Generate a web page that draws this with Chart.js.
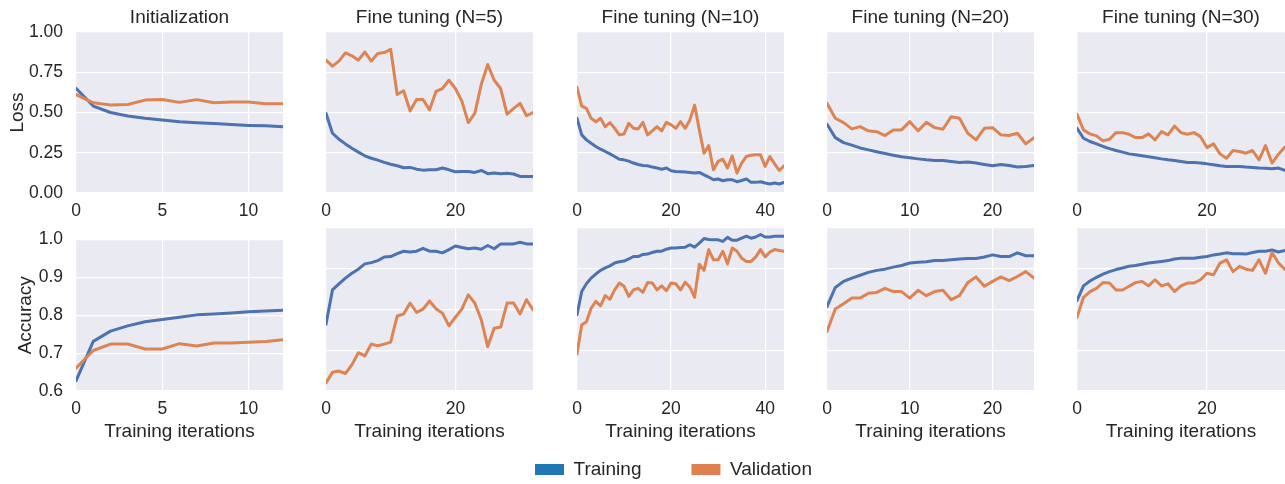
<!DOCTYPE html>
<html>
<head>
<meta charset="utf-8">
<script src="https://cdn.jsdelivr.net/npm/chart.js@4.4.1/dist/chart.umd.min.js"></script>
<style>
  body { margin: 0; width: 1285px; height: 484px; overflow: hidden; position: relative; background: #fff; }
  canvas { position: absolute; }
</style>
</head>
<body>
<script>
// panel titles and axis labels
const panelTitles = ['Initialization', 'Fine tuning (N=5)', 'Fine tuning (N=10)', 'Fine tuning (N=20)', 'Fine tuning (N=30)'];
const seriesNames = ['Training', 'Validation'];
const lossTicks = [0, 0.25, 0.5, 0.75, 1.0];
const accTicks = [0.6, 0.7, 0.8, 0.9, 1.0];
const xTicks = [[0, 5, 10], [0, 20], [0, 20, 40], [0, 10, 20], [0, 20]];

// loss per iteration
const initLossTrain = [0.65, 0.54, 0.50, 0.478, 0.464, 0.454, 0.443, 0.437, 0.431, 0.425, 0.42, 0.417, 0.412];
const initLossVal = [0.612, 0.56, 0.546, 0.55, 0.577, 0.581, 0.563, 0.58, 0.56, 0.565, 0.565, 0.555, 0.555];
const n5LossTrain = [0.495, 0.371, 0.334, 0.305, 0.278, 0.254, 0.231, 0.216, 0.204, 0.19, 0.179, 0.169, 0.157, 0.159, 0.148, 0.142, 0.144, 0.144, 0.155, 0.144, 0.132, 0.134, 0.134, 0.128, 0.14, 0.12, 0.124, 0.12, 0.122, 0.118, 0.103, 0.103, 0.103];
const n5LossVal = [0.825, 0.788, 0.819, 0.87, 0.852, 0.825, 0.876, 0.819, 0.866, 0.872, 0.893, 0.612, 0.635, 0.509, 0.581, 0.581, 0.515, 0.631, 0.649, 0.70, 0.649, 0.571, 0.437, 0.495, 0.674, 0.798, 0.70, 0.649, 0.489, 0.526, 0.557, 0.48, 0.50];
const n10LossTrain = [0.464, 0.361, 0.33, 0.309, 0.289, 0.272, 0.258, 0.243, 0.227, 0.21, 0.206, 0.198, 0.186, 0.177, 0.171, 0.169, 0.161, 0.155, 0.148, 0.155, 0.138, 0.134, 0.132, 0.13, 0.128, 0.124, 0.128, 0.113, 0.099, 0.082, 0.087, 0.076, 0.082, 0.082, 0.07, 0.078, 0.087, 0.066, 0.066, 0.07, 0.062, 0.056, 0.062, 0.056, 0.066];
const n10LossVal = [0.656, 0.54, 0.526, 0.464, 0.443, 0.464, 0.412, 0.437, 0.402, 0.361, 0.367, 0.433, 0.402, 0.398, 0.439, 0.361, 0.386, 0.412, 0.386, 0.439, 0.423, 0.402, 0.443, 0.402, 0.454, 0.546, 0.392, 0.247, 0.295, 0.144, 0.196, 0.21, 0.155, 0.231, 0.124, 0.186, 0.227, 0.235, 0.237, 0.237, 0.165, 0.227, 0.181, 0.14, 0.169];
const n20LossTrain = [0.427, 0.344, 0.313, 0.297, 0.28, 0.268, 0.256, 0.245, 0.235, 0.225, 0.219, 0.212, 0.206, 0.202, 0.202, 0.196, 0.19, 0.192, 0.186, 0.177, 0.169, 0.177, 0.171, 0.161, 0.165, 0.171];
const n20LossVal = [0.557, 0.464, 0.437, 0.398, 0.412, 0.386, 0.381, 0.357, 0.392, 0.392, 0.443, 0.386, 0.439, 0.406, 0.396, 0.474, 0.464, 0.371, 0.33, 0.402, 0.406, 0.361, 0.357, 0.371, 0.305, 0.344];
const n30LossTrain = [0.402, 0.34, 0.32, 0.305, 0.289, 0.276, 0.264, 0.254, 0.243, 0.237, 0.231, 0.225, 0.219, 0.212, 0.206, 0.202, 0.196, 0.19, 0.19, 0.186, 0.181, 0.175, 0.169, 0.165, 0.165, 0.165, 0.161, 0.159, 0.155, 0.153, 0.151, 0.155, 0.14];
const n30LossVal = [0.489, 0.392, 0.367, 0.355, 0.324, 0.334, 0.375, 0.375, 0.365, 0.344, 0.344, 0.367, 0.33, 0.381, 0.361, 0.416, 0.375, 0.365, 0.375, 0.35, 0.282, 0.305, 0.243, 0.216, 0.264, 0.258, 0.247, 0.264, 0.206, 0.295, 0.186, 0.241, 0.285];

// accuracy per iteration
const initAccTrain = [0.627, 0.731, 0.758, 0.772, 0.783, 0.789, 0.795, 0.801, 0.803, 0.806, 0.809, 0.811, 0.813];
const initAccVal = [0.66, 0.707, 0.724, 0.724, 0.711, 0.711, 0.725, 0.719, 0.727, 0.727, 0.729, 0.731, 0.735];
const n5AccTrain = [0.764, 0.848, 0.863, 0.877, 0.889, 0.899, 0.912, 0.915, 0.92, 0.929, 0.93, 0.937, 0.943, 0.941, 0.943, 0.95, 0.943, 0.943, 0.939, 0.947, 0.956, 0.952, 0.949, 0.951, 0.948, 0.957, 0.949, 0.961, 0.961, 0.961, 0.965, 0.961, 0.961];
const n5AccVal = [0.62, 0.646, 0.649, 0.643, 0.664, 0.694, 0.686, 0.715, 0.711, 0.715, 0.72, 0.784, 0.789, 0.816, 0.793, 0.801, 0.821, 0.802, 0.791, 0.76, 0.781, 0.801, 0.836, 0.816, 0.775, 0.709, 0.754, 0.757, 0.816, 0.816, 0.789, 0.824, 0.799];
const n10AccTrain = [0.787, 0.844, 0.863, 0.877, 0.887, 0.896, 0.902, 0.907, 0.914, 0.917, 0.919, 0.924, 0.93, 0.93, 0.935, 0.936, 0.94, 0.943, 0.943, 0.948, 0.951, 0.951, 0.952, 0.953, 0.959, 0.953, 0.963, 0.974, 0.972, 0.971, 0.971, 0.967, 0.977, 0.97, 0.97, 0.975, 0.98, 0.975, 0.978, 0.984, 0.978, 0.978, 0.98, 0.98, 0.98];
const n10AccVal = [0.691, 0.762, 0.77, 0.803, 0.82, 0.809, 0.834, 0.825, 0.848, 0.865, 0.857, 0.832, 0.848, 0.852, 0.842, 0.866, 0.865, 0.848, 0.858, 0.846, 0.865, 0.863, 0.848, 0.867, 0.855, 0.83, 0.911, 0.896, 0.947, 0.922, 0.922, 0.943, 0.912, 0.951, 0.943, 0.926, 0.918, 0.918, 0.929, 0.947, 0.929, 0.941, 0.947, 0.945, 0.943];
const n20AccTrain = [0.807, 0.854, 0.869, 0.877, 0.884, 0.891, 0.896, 0.899, 0.904, 0.908, 0.914, 0.916, 0.917, 0.92, 0.92, 0.922, 0.924, 0.925, 0.925, 0.929, 0.934, 0.93, 0.93, 0.939, 0.932, 0.932];
const n20AccVal = [0.746, 0.801, 0.814, 0.828, 0.828, 0.84, 0.842, 0.852, 0.844, 0.844, 0.828, 0.847, 0.834, 0.844, 0.847, 0.824, 0.834, 0.866, 0.88, 0.857, 0.869, 0.88, 0.871, 0.881, 0.893, 0.877];
const n30AccTrain = [0.822, 0.858, 0.87, 0.879, 0.887, 0.893, 0.898, 0.902, 0.906, 0.908, 0.911, 0.914, 0.916, 0.918, 0.92, 0.924, 0.926, 0.926, 0.926, 0.928, 0.93, 0.934, 0.936, 0.939, 0.937, 0.937, 0.936, 0.94, 0.943, 0.943, 0.946, 0.941, 0.945];
const n30AccVal = [0.781, 0.83, 0.844, 0.852, 0.866, 0.865, 0.848, 0.848, 0.857, 0.866, 0.869, 0.858, 0.873, 0.858, 0.863, 0.844, 0.858, 0.865, 0.865, 0.873, 0.889, 0.885, 0.914, 0.922, 0.893, 0.906, 0.899, 0.896, 0.922, 0.889, 0.94, 0.914, 0.898];

const lossTrain = [initLossTrain, n5LossTrain, n10LossTrain, n20LossTrain, n30LossTrain];
const lossVal = [initLossVal, n5LossVal, n10LossVal, n20LossVal, n30LossVal];
const accTrain = [initAccTrain, n5AccTrain, n10AccTrain, n20AccTrain, n30AccTrain];
const accVal = [initAccVal, n5AccVal, n10AccVal, n20AccVal, n30AccVal];

// layout
const plotLefts = [76, 326, 577, 827, 1077];
const plotWidths = [207, 207, 207, 207, 208];
const Y_AXIS_W = 76;
const TEXT = '#262626';
const lineColors = ['#4C72B0', '#DD8452'];
const legendColors = ['#1F77B4', '#E07F4F'];

Chart.defaults.font.family = '"Liberation Sans", Arial, sans-serif';
Chart.defaults.color = TEXT;
Chart.defaults.animation = false;

const plotBackground = {
    id: 'plotBackground',
    beforeDraw(chart) {
        const { ctx, chartArea: a } = chart;
        if (!a) return;
        ctx.save();
        ctx.fillStyle = '#EAEAF2';
        ctx.fillRect(a.left, a.top, a.width, a.height);
        ctx.restore();
    }
};

const toPoints = arr => arr.map((v, i) => ({ x: i, y: v }));

function makePanel(row, col) {
    const isLoss = row === 0;
    const train = (isLoss ? lossTrain : accTrain)[col];
    const val = (isLoss ? lossVal : accVal)[col];
    const yTicks = isLoss ? lossTicks : accTicks;

    const canvas = document.createElement('canvas');
    canvas.width = Y_AXIS_W + plotWidths[col];
    canvas.height = isLoss ? 225 : 227;
    canvas.style.left = (plotLefts[col] - Y_AXIS_W) + 'px';
    canvas.style.top = (isLoss ? 0 : 216) + 'px';
    document.body.appendChild(canvas);

    new Chart(canvas, {
        type: 'line',
        data: {
            datasets: [
                { label: seriesNames[0], data: toPoints(train), borderColor: lineColors[0], order: 2 },
                { label: seriesNames[1], data: toPoints(val), borderColor: lineColors[1], order: 1 }
            ]
        },
        options: {
            responsive: false,
            devicePixelRatio: 1,
            layout: { padding: { top: isLoss ? 0 : 12, right: 0, left: 0, bottom: 0 } },
            elements: {
                point: { radius: 0 },
                line: { borderWidth: 3, tension: 0, borderJoinStyle: 'round', borderCapStyle: 'round' }
            },
            plugins: {
                legend: { display: false },
                tooltip: { enabled: false },
                title: {
                    display: isLoss,
                    text: panelTitles[col],
                    fullSize: false,
                    color: TEXT,
                    font: { size: 19, weight: 'normal' },
                    padding: { top: 6, bottom: 3.2 }
                }
            },
            scales: {
                x: {
                    type: 'linear',
                    min: 0,
                    max: train.length - 1,
                    afterBuildTicks: s => { s.ticks = xTicks[col].map(v => ({ value: v })); },
                    afterFit: s => { s.height = isLoss ? 32 : 52; },
                    ticks: { font: { size: 17.5 }, padding: 8, maxRotation: 0, color: TEXT },
                    grid: { color: '#FFFFFF', lineWidth: 1.2, drawTicks: false },
                    border: { display: false },
                    title: {
                        display: !isLoss,
                        text: 'Training iterations',
                        color: TEXT,
                        font: { size: 19 },
                        padding: { top: 0, bottom: 0 }
                    }
                },
                y: {
                    min: yTicks[0],
                    max: yTicks[yTicks.length - 1],
                    afterBuildTicks: s => { s.ticks = yTicks.map(v => ({ value: v })); },
                    afterFit: s => { s.width = Y_AXIS_W; },
                    ticks: {
                        display: col === 0,
                        font: { size: 17.5 },
                        padding: 13,
                        color: TEXT,
                        callback: v => v.toFixed(isLoss ? 2 : 1)
                    },
                    grid: { color: '#FFFFFF', lineWidth: 1.2, drawTicks: false },
                    border: { display: false },
                    title: {
                        display: col === 0,
                        text: isLoss ? 'Loss' : 'Accuracy',
                        color: TEXT,
                        font: { size: 19 },
                        padding: { top: isLoss ? 6.4 : 14.5, bottom: 0 }
                    }
                }
            }
        },
        plugins: [plotBackground]
    });
}

for (let row = 0; row < 2; row++) {
    for (let col = 0; col < 5; col++) makePanel(row, col);
}

// shared legend under the grid
const legendCanvas = document.createElement('canvas');
legendCanvas.width = 1285;
legendCanvas.height = 300;
legendCanvas.style.left = '31px';
legendCanvas.style.top = '410px';
document.body.appendChild(legendCanvas);

new Chart(legendCanvas, {
    type: 'line',
    data: {
        datasets: seriesNames.map((name, i) => ({
            label: name,
            data: [],
            backgroundColor: legendColors[i],
            borderColor: legendColors[i],
            borderWidth: 0
        }))
    },
    options: {
        responsive: false,
        devicePixelRatio: 1,
        scales: { x: { display: false }, y: { display: false } },
        plugins: {
            tooltip: { enabled: false },
            legend: {
                display: true,
                position: 'top',
                labels: {
                    boxWidth: 29,
                    boxHeight: 11,
                    padding: 50,
                    color: TEXT,
                    font: { size: 19 }
                }
            }
        }
    }
});
</script>
</body>
</html>
